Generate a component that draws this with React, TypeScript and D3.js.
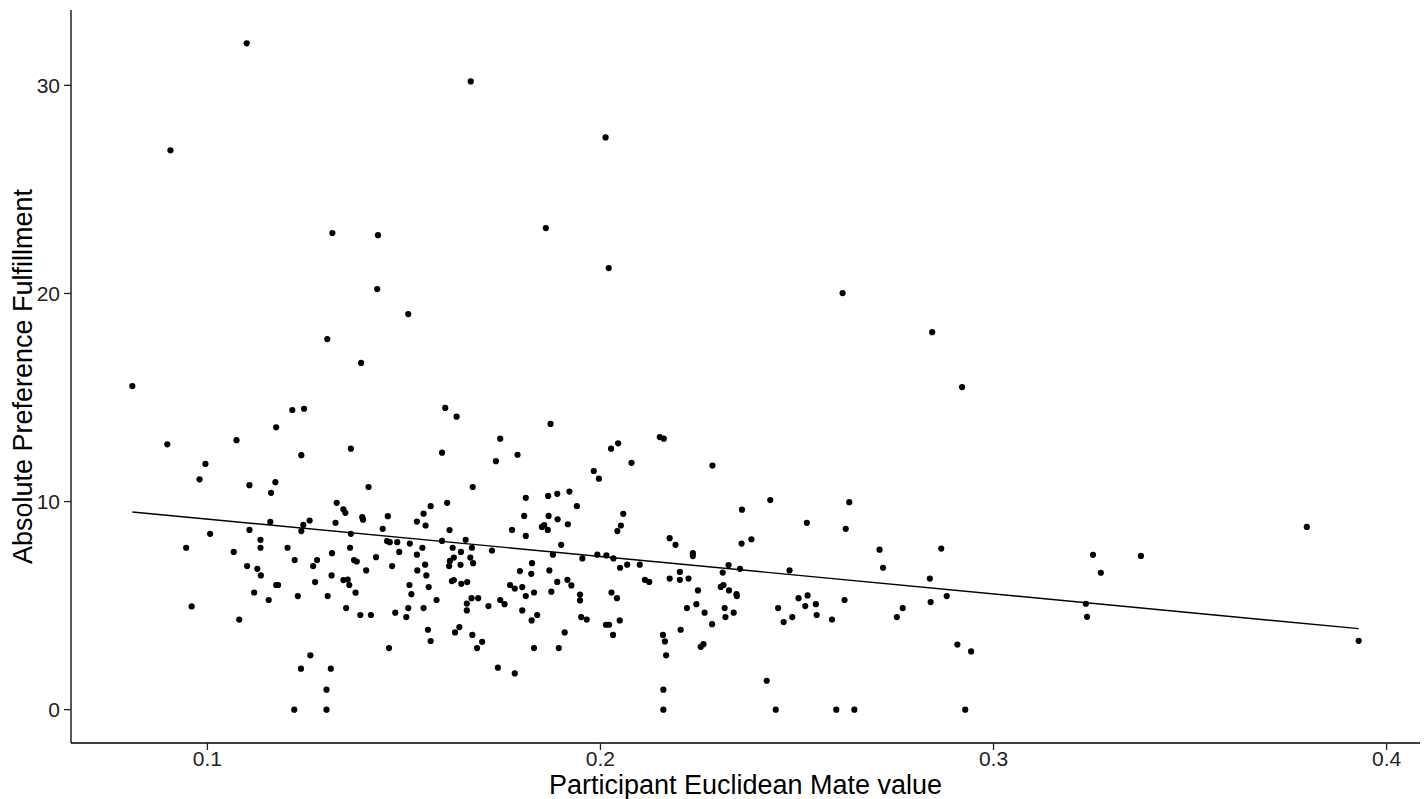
import React from "react";
import * as d3 from "d3";

const mateValue: number[] = [
  0.110, 0.167, 0.0906, 0.2013, 0.1861, 0.1318, 0.1434, 0.2021, 0.1432, 0.1511, 0.2616, 0.2844, 0.1305, 0.1391, 0.0809, 0.2920, 0.3253, 0.3235, 0.3238, 0.3273, 0.3375, 0.3797, 0.3929,
  0.0898, 0.1074, 0.0995, 0.0980, 0.1107, 0.1007, 0.1107, 0.0946, 0.1067,
  0.1216, 0.1246, 0.1175, 0.1239, 0.1365, 0.1173, 0.1162, 0.1410, 0.1329, 0.1346, 0.1351, 0.1394, 0.1396, 0.1459, 0.1160, 0.1244, 0.1260, 0.1239, 0.1326, 0.1446, 0.1365, 0.1135, 0.1135, 0.1204, 0.1457, 0.1464, 0.1483, 0.1363, 0.1317, 0.1488, 0.1429,
  0.1222, 0.1279, 0.1373, 0.1380, 0.1127, 0.1136, 0.1269, 0.1316, 0.1404, 0.1470, 0.1175, 0.1180, 0.1274, 0.1346, 0.1357, 0.1361, 0.1377, 0.1119, 0.1156, 0.1230, 0.1306, 0.1353, 0.1389, 0.1416, 0.1478, 0.1462, 0.1262, 0.1238, 0.1314, 0.1303, 0.1221, 0.1303,
  0.1101, 0.0960, 0.1081,
  0.1605, 0.1634, 0.1873, 0.1745, 0.1597, 0.1734, 0.1789, 0.1675, 0.1810, 0.1867, 0.1568, 0.1610, 0.1550, 0.1533, 0.1555, 0.1616, 0.1806, 0.1868, 0.1775, 0.1810, 0.1851, 0.1857, 0.1866, 0.1515, 0.1597, 0.1657, 0.1547, 0.1624, 0.1673, 0.1645, 0.1724, 0.1533,
  0.1617, 0.1627, 0.1615, 0.1644, 0.1669, 0.1676, 0.1554, 0.1534, 0.1557, 0.1514, 0.1563, 0.1519, 0.1583, 0.1511, 0.1550, 0.1506, 0.1622, 0.1627, 0.1646, 0.1661, 0.1672, 0.1689, 0.1660, 0.1660, 0.1715, 0.1745, 0.1756, 0.1770, 0.1782, 0.1801, 0.1810, 0.1831, 0.1795, 0.1824, 0.1826, 0.1870, 0.1875, 0.1801, 0.1839, 0.1825, 0.1561, 0.1568, 0.1641, 0.1630, 0.1674, 0.1699, 0.1686, 0.1831, 0.1739, 0.1782,
  0.2027, 0.2045, 0.2151, 0.2161, 0.2079, 0.1983, 0.1996, 0.1890, 0.1921, 0.1940, 0.1891, 0.1917, 0.2058, 0.2052, 0.2043, 0.2176, 0.2191, 0.2235, 0.2235, 0.1900, 0.1879, 0.1954, 0.1992, 0.2015, 0.2033,
  0.2050, 0.2068, 0.2100, 0.1890, 0.1916, 0.1926, 0.1948, 0.1948, 0.2028, 0.2042, 0.2113, 0.2124, 0.2176, 0.2202, 0.2202, 0.2224, 0.2248, 0.2244, 0.2220, 0.1951, 0.1965, 0.2014, 0.2022, 0.2049, 0.2032, 0.1909, 0.1894, 0.2159, 0.2164, 0.2167, 0.2204, 0.2255, 0.2262, 0.2160, 0.2160,
  0.2285, 0.2360, 0.2432, 0.2525, 0.2633, 0.2624, 0.2359, 0.2384,
  0.2326, 0.2311, 0.2355, 0.2481, 0.2306, 0.2313, 0.2327, 0.2346, 0.2347, 0.2265, 0.2284, 0.2316, 0.2318, 0.2339, 0.2452, 0.2466, 0.2488, 0.2504, 0.2527, 0.2521, 0.2548, 0.2550, 0.2589, 0.2621, 0.2423, 0.2446, 0.2600,
  0.2710, 0.2867,
  0.2719, 0.2838, 0.2881, 0.2840, 0.2769, 0.2754, 0.2908, 0.2943, 0.2646, 0.2928,
];

const fulfillment: number[] = [
  32.02, 30.19, 26.88, 27.50, 23.14, 22.90, 22.80, 21.22, 20.21, 19.01, 20.02, 18.14, 17.81, 16.66, 15.55, 15.50, 7.44, 5.09, 4.46, 6.58, 7.39, 8.78, 3.31,
  12.75, 12.95, 11.81, 11.07, 10.79, 8.45, 8.64, 7.78, 7.58,
  14.40, 14.46, 13.57, 12.23, 12.54, 10.93, 10.42, 10.70, 9.94, 9.63, 9.46, 9.25, 9.13, 9.30, 9.02, 8.88, 9.09, 8.58, 8.98, 8.69, 8.45, 8.16, 7.78, 7.78, 8.10, 8.05, 8.05, 7.78, 7.52, 7.58, 7.33,
  7.19, 7.19, 7.19, 7.12, 6.77, 6.45, 6.90, 6.45, 6.69, 6.90, 5.99, 5.99, 6.13, 6.23, 6.25, 5.99, 5.62, 5.63, 5.27, 5.46, 5.46, 4.88, 4.55, 4.55, 4.66, 2.96, 2.61, 1.97, 1.97, 0.96, 0, 0,
  6.90, 4.96, 4.33,
  14.50, 14.08, 13.73, 13.02, 12.35, 11.94, 12.25, 10.70, 10.18, 10.27, 9.78, 9.94, 9.42, 9.04, 8.85, 8.63, 9.31, 9.31, 8.64, 8.35, 8.78, 8.87, 8.64, 7.98, 8.11, 8.16, 7.78, 7.78, 7.78, 7.58, 7.65, 7.45,
  7.15, 7.31, 6.90, 6.96, 7.31, 7.04, 6.97, 6.69, 6.45, 5.99, 5.89, 5.55, 5.27, 4.88, 4.88, 4.45, 6.18, 6.23, 6.05, 6.13, 5.36, 5.36, 5.10, 4.77, 4.98, 5.27, 5.07, 5.99, 5.82, 5.89, 5.46, 5.63, 6.66, 6.53, 7.04, 6.69, 5.67, 4.77, 4.55, 4.29, 3.84, 3.30, 3.97, 3.71, 3.59, 3.26, 2.96, 2.96, 2.02, 1.74,
  12.54, 12.80, 13.10, 13.02, 11.86, 11.47, 11.10, 10.37, 10.48, 9.78, 9.15, 8.91, 9.41, 8.85, 8.58, 8.24, 7.92, 7.52, 7.38, 7.92, 7.45, 7.27, 7.45, 7.41, 7.27,
  6.82, 6.97, 6.97, 6.14, 6.24, 5.97, 5.53, 5.25, 5.63, 5.36, 6.24, 6.14, 6.30, 6.62, 6.24, 6.30, 5.73, 5.07, 4.88, 4.45, 4.33, 4.08, 4.08, 4.29, 3.59, 3.71, 2.96, 3.59, 3.28, 2.61, 3.84, 3.02, 3.15, 0.96, 0,
  11.73, 9.61, 10.07, 8.98, 9.97, 8.69, 7.98, 8.19,
  6.95, 6.59, 6.77, 6.69, 5.90, 5.99, 5.73, 5.55, 5.46, 4.66, 4.11, 4.88, 4.45, 4.66, 4.88, 4.21, 4.45, 5.36, 5.49, 4.98, 5.07, 4.55, 4.33, 5.27, 1.39, 0, 0,
  7.69, 7.74,
  6.82, 6.30, 5.46, 5.17, 4.88, 4.45, 3.13, 2.80, 0, 0,
];

const xTicks: number[] = [0.1, 0.2, 0.3, 0.4];
const yTicks: number[] = [0, 10, 20, 30];
const xTitle = "Participant Euclidean Mate value";
const yTitle = "Absolute Preference Fulfillment";

const W = 1426;
const H = 799;
const left = 71;
const right = 1420;
const top = 10;
const bottom = 743;
const FONT = "'Liberation Sans', Arial, sans-serif";

function expand(ext: [number, number], m = 0.05): [number, number] {
  const d = ext[1] - ext[0];
  return [ext[0] - d * m, ext[1] + d * m];
}

export default function App() {
  const xExt = d3.extent(mateValue) as [number, number];
  const yExt = d3.extent(fulfillment) as [number, number];
  const x = d3.scaleLinear().domain(expand(xExt)).range([left, right]);
  const y = d3.scaleLinear().domain(expand(yExt)).range([bottom, top]);

  // least-squares fit
  const mx = d3.mean(mateValue) as number;
  const my = d3.mean(fulfillment) as number;
  let sxy = 0;
  let sxx = 0;
  mateValue.forEach((v, i) => {
    sxy += (v - mx) * (fulfillment[i] - my);
    sxx += (v - mx) * (v - mx);
  });
  const slope = sxy / sxx;
  const intercept = my - slope * mx;
  const fitLine = d3
    .line<number>()
    .x((d) => x(d))
    .y((d) => y(intercept + slope * d));

  const tickLen = 7;
  const tickColor = "#222222";

  return (
    <svg
      width={W}
      height={H}
      style={{ position: "absolute", left: 0, top: 0, background: "#ffffff" }}
      fontFamily={FONT}
    >
      <rect x={0} y={0} width={W} height={H} fill="#ffffff" />
      {mateValue.map((v, i) => (
        <circle key={i} cx={x(v)} cy={y(fulfillment[i])} r={3.1} fill="#000000" />
      ))}
      <path d={fitLine(xExt) ?? ""} fill="none" stroke="#000000" strokeWidth={1.4} />

      {/* axes */}
      <line x1={left} x2={left} y1={top} y2={bottom} stroke="#000" strokeWidth={1.3} />
      <line x1={left} x2={right} y1={bottom} y2={bottom} stroke="#000" strokeWidth={1.3} />

      {xTicks.map((t) => (
        <g key={t}>
          <line x1={x(t)} x2={x(t)} y1={bottom} y2={bottom + tickLen} stroke={tickColor} strokeWidth={1.3} />
          <text x={x(t)} y={bottom + 23} textAnchor="middle" fontSize={21} fill={tickColor}>
            {t.toFixed(1)}
          </text>
        </g>
      ))}
      {yTicks.map((t) => (
        <g key={t}>
          <line x1={left - tickLen} x2={left} y1={y(t)} y2={y(t)} stroke={tickColor} strokeWidth={1.3} />
          <text x={left - 11} y={y(t)} dy="0.36em" textAnchor="end" fontSize={21} fill={tickColor}>
            {t}
          </text>
        </g>
      ))}

      <text x={(left + right) / 2} y={793.5} textAnchor="middle" fontSize={27} fill="#000">
        {xTitle}
      </text>
      <text
        transform={`translate(32, ${(top + bottom) / 2}) rotate(-90)`}
        textAnchor="middle"
        fontSize={27}
        fill="#000"
      >
        {yTitle}
      </text>
    </svg>
  );
}
